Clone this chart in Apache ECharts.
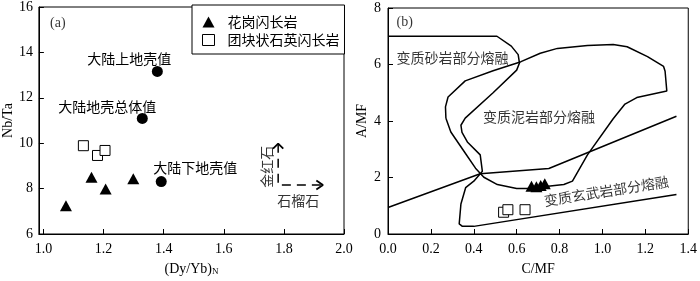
<!DOCTYPE html>
<html>
<head>
<meta charset="utf-8">
<script src="https://cdn.jsdelivr.net/npm/echarts@6/dist/echarts.min.js"></script>
<style>html,body{margin:0;padding:0;background:#fff;}#c{width:700px;height:281px;}</style>
</head>
<body>
<div id="c"></div>
<script>
// ---------- data ----------
const seriesNames = ['花岗闪长岩', '团块状石英闪长岩'];
// panel (a): (Dy/Yb)N vs Nb/Ta
const aTriangles = [[1.075, 7.24], [1.160, 8.50], [1.207, 7.98], [1.299, 8.43]];
const aSquares = [[1.133, 9.89], [1.180, 9.46], [1.205, 9.68]];
const circleNames = ['大陆上地壳值', '大陆地壳总体值', '大陆下地壳值'];
const circleValues = [[1.379, 13.16], [1.329, 11.09], [1.392, 8.31]];
const circleLabelOffsets = [[-28, -13], [-35, -12], [34, -14]];
const aXTicks = [1.0, 1.2, 1.4, 1.6, 1.8, 2.0];
const arrowPath = [[1.781, 9.98], [1.781, 8.16], [1.930, 8.16]];
const arrowHeadUp = [[1.764, 9.76], [1.781, 9.98], [1.798, 9.76]];
const arrowHeadRight = [[1.908, 8.36], [1.930, 8.16], [1.908, 7.96]];
const aNotes = [
  {name: '(a)', value: [1.048, 15.27], rotate: 0},
  {name: '金红石', value: [1.744, 8.96], rotate: 90},
  {name: '石榴石', value: [1.848, 7.45], rotate: 0}
];
// panel (b): C/MF vs A/MF
const bTriangles = [[0.669, 1.69], [0.692, 1.67], [0.712, 1.72], [0.731, 1.78]];
const bSquares = [[0.539, 0.77], [0.559, 0.86], [0.639, 0.86]];
const sandstoneLine = [[0, 7.0], [0.508, 7.0], [0.575, 6.65], [0.607, 6.35], [0.613, 6.05], [0.60, 5.8],
  [0.49, 5.0], [0.36, 4.1], [0.34, 3.85], [0.345, 3.6], [0.37, 3.26], [0.43, 2.8], [0.44, 2.22],
  [0.40, 1.87], [0.362, 1.64], [0.34, 1.06], [0.332, 0.36], [0.347, 0.27], [0.40, 0.27], [1.345, 1.40]];
const pelitePolygon = [[0.27, 4.1], [0.268, 4.5], [0.28, 4.85], [0.36, 5.42], [0.49, 5.78], [0.62, 6.1],
  [0.71, 6.4], [0.79, 6.57], [0.93, 6.67], [1.05, 6.71], [1.115, 6.63], [1.21, 6.28], [1.285, 5.93],
  [1.292, 5.76], [1.30, 5.06], [1.16, 4.83], [1.105, 4.6], [1.05, 4.08], [0.93, 2.8], [0.86, 1.87],
  [0.82, 1.75], [0.65, 1.61], [0.60, 1.61], [0.51, 1.75], [0.447, 2.01], [0.408, 2.33], [0.355, 2.92],
  [0.293, 3.61], [0.27, 4.1]];
const dividerLine = [[0, 0.94], [0.43, 2.13], [0.75, 2.32], [1.345, 4.17]];
const bNotes = [
  {name: '(b)', value: [0.078, 7.50], rotate: 0},
  {name: '变质砂岩部分熔融', value: [0.301, 6.25], rotate: 0},
  {name: '变质泥岩部分熔融', value: [0.704, 4.17], rotate: 0},
  {name: '变质玄武岩部分熔融', value: [1.018, 1.52], rotate: 9}
];

// ---------- chart ----------
const SERIF = '"Liberation Serif", "Times New Roman", serif';
const CJK = '"Noto Sans CJK SC", sans-serif';
const chart = echarts.init(document.getElementById('c'), null, {renderer: 'canvas'});

function axisBase(extra) {
  return Object.assign({
    type: 'value',
    axisLine: {show: true, lineStyle: {color: '#000', width: 1}},
    axisTick: {show: true, inside: true, length: 5, lineStyle: {color: '#000'}},
    splitLine: {show: false},
    axisLabel: {color: '#000', fontFamily: SERIF, fontSize: 14},
    nameTextStyle: {color: '#000', fontFamily: SERIF, fontSize: 14}
  }, extra);
}

function notes(arr, xi, yi) {
  return {
    type: 'scatter', xAxisIndex: xi, yAxisIndex: yi, silent: true,
    symbol: 'circle', symbolSize: 1, itemStyle: {color: 'rgba(0,0,0,0)'},
    data: arr.map(n => ({
      name: n.name, value: n.value,
      label: {show: true, position: 'inside', rotate: n.rotate, formatter: '{b}',
        color: '#000', fontSize: 14,
        fontFamily: n.name.charAt(0) === '(' ? SERIF : CJK}
    })),
    z: 5
  };
}

function poly(data, xi, yi, width, dash) {
  return {
    type: 'line', xAxisIndex: xi, yAxisIndex: yi, data: data, symbol: 'none', silent: true,
    lineStyle: {color: '#000', width: width, type: dash || 'solid'}, z: 2
  };
}

const solidBlack = {color: '#000', opacity: 1};
const hollow = {color: '#fff', borderColor: '#000', borderWidth: 1, opacity: 1};

const option = {
  animation: false,
  grid: [
    {left: 38, top: 5, width: 306, height: 232, show: true, borderColor: '#000', borderWidth: 1, backgroundColor: 'transparent'},
    {left: 388, top: 8, width: 304, height: 229, show: true, borderColor: '#000', borderWidth: 1, backgroundColor: 'transparent'}
  ],
  xAxis: [
    axisBase({gridIndex: 0, min: 0.985, max: 2.0,
      axisTick: {show: true, inside: true, length: 5, lineStyle: {color: '#000'}, customValues: aXTicks},
      axisLabel: {color: '#000', fontFamily: SERIF, fontSize: 14, margin: 8, customValues: aXTicks,
        formatter: v => v.toFixed(1)},
      name: '(Dy/Yb){s|N}', nameLocation: 'middle', nameGap: 28,
      nameTextStyle: {color: '#000', fontFamily: SERIF, fontSize: 14,
        rich: {s: {fontFamily: SERIF, fontSize: 9, color: '#000', verticalAlign: 'bottom', padding: [5, 0, 0, 0]}}}
    }),
    axisBase({gridIndex: 1, min: 0, max: 1.4, interval: 0.2,
      axisLabel: {color: '#000', fontFamily: SERIF, fontSize: 14, margin: 8, formatter: v => v.toFixed(1)},
      name: 'C/MF', nameLocation: 'middle', nameGap: 28
    })
  ],
  yAxis: [
    axisBase({gridIndex: 0, min: 6, max: 16, interval: 2,
      axisLabel: {color: '#000', fontFamily: SERIF, fontSize: 14, margin: 6},
      name: 'Nb/Ta', nameLocation: 'middle', nameGap: 23}),
    axisBase({gridIndex: 1, min: 0, max: 8, interval: 2,
      axisLabel: {color: '#000', fontFamily: SERIF, fontSize: 14, margin: 7},
      name: 'A/MF', nameLocation: 'middle', nameGap: 19})
  ],
  legend: {
    orient: 'vertical', left: 192, top: 5, selectedMode: false,
    backgroundColor: '#fff', borderColor: '#000', borderWidth: 1,
    padding: [10, 5, 7, 10], itemGap: 4, itemWidth: 12, itemHeight: 11,
    textStyle: {color: '#000', fontFamily: CJK, fontSize: 14, lineHeight: 14, padding: [0, 0, 0, 8]},
    data: [
      {name: seriesNames[0], icon: 'triangle', itemStyle: {color: '#000', borderWidth: 0, opacity: 1}},
      {name: seriesNames[1], icon: 'rect', itemStyle: {color: '#fff', borderColor: '#000', borderWidth: 1, opacity: 1}}
    ],
    z: 10
  },
  series: [
    // panel (a)
    {name: seriesNames[0], type: 'scatter', xAxisIndex: 0, yAxisIndex: 0, symbol: 'triangle',
      symbolSize: [12, 11], itemStyle: solidBlack, data: aTriangles, z: 4},
    {name: seriesNames[1], type: 'scatter', xAxisIndex: 0, yAxisIndex: 0, symbol: 'rect',
      symbolSize: 10, itemStyle: hollow, data: aSquares, z: 4},
    {name: 'crust', type: 'scatter', xAxisIndex: 0, yAxisIndex: 0, symbol: 'circle', symbolSize: 11,
      itemStyle: solidBlack, z: 4,
      data: circleNames.map((n, i) => ({
        name: n, value: circleValues[i],
        label: {show: true, position: 'inside', offset: circleLabelOffsets[i], formatter: '{b}',
          color: '#000', fontFamily: CJK, fontSize: 14}
      }))},
    poly(arrowPath, 0, 0, 1.5, [9, 6]),
    poly(arrowHeadUp, 0, 0, 1.8),
    poly(arrowHeadRight, 0, 0, 1.8),
    notes(aNotes, 0, 0),
    // panel (b)
    poly(sandstoneLine, 1, 1, 1.5),
    poly(pelitePolygon, 1, 1, 1.5),
    poly(dividerLine, 1, 1, 1.5),
    {name: seriesNames[0], type: 'scatter', xAxisIndex: 1, yAxisIndex: 1, symbol: 'triangle',
      symbolSize: [12, 11], itemStyle: solidBlack, data: bTriangles, z: 4},
    {name: seriesNames[1], type: 'scatter', xAxisIndex: 1, yAxisIndex: 1, symbol: 'rect',
      symbolSize: 10, itemStyle: hollow, data: bSquares, z: 4},
    notes(bNotes, 1, 1)
  ]
};
chart.setOption(option);
</script>
</body>
</html>
